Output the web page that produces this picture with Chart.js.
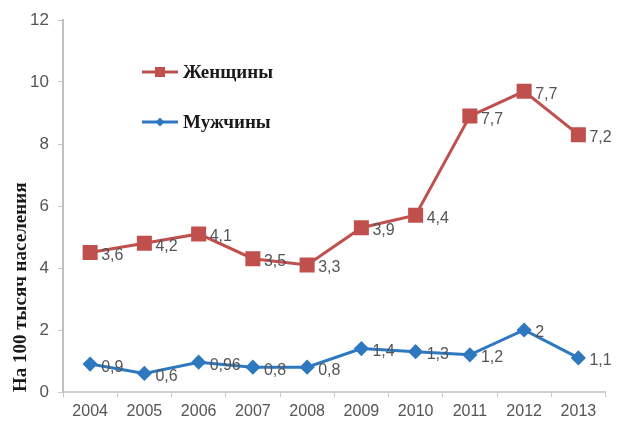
<!DOCTYPE html>
<html>
<head>
<meta charset="utf-8">
<script src="https://cdn.jsdelivr.net/npm/chart.js@4"></script>
<style>
  html, body { margin: 0; padding: 0; background: #fff; }
  #wrap { width: 617px; height: 430px; position: relative; }
</style>
</head>
<body>
<div id="wrap"><canvas id="c" width="617" height="430"></canvas></div>
<script>
// Years on the horizontal axis
const years = ['2004', '2005', '2006', '2007', '2008', '2009', '2010', '2011', '2012', '2013'];
// Rate per 100 thousand population
const women = [4.5, 4.8, 5.1, 4.3, 4.1, 5.3, 5.7, 8.9, 9.7, 8.3];
const men = [0.9, 0.6, 0.96, 0.8, 0.8, 1.4, 1.3, 1.2, 2, 1.1];
// Annotation texts printed beside the women's points
const womenNotes = ['3,6', '4,2', '4,1', '3,5', '3,3', '3,9', '4,4', '7,7', '7,7', '7,2'];
const yTicks = [0, 2, 4, 6, 8, 10, 12];

const RED = '#c0504d';
const BLUE = '#2e78c0';

const fmt = v => String(v).replace('.', ',');

// Point annotations to the right of each marker
const pointNotes = {
  id: 'pointNotes',
  afterDatasetsDraw(chart) {
    const ctx = chart.ctx;
    ctx.save();
    ctx.font = '16px "Liberation Sans", Arial, sans-serif';
    ctx.fillStyle = '#555';
    ctx.textAlign = 'left';
    ctx.textBaseline = 'middle';
    chart.data.datasets.forEach((ds, i) => {
      const meta = chart.getDatasetMeta(i);
      meta.data.forEach((pt, j) => {
        const txt = ds.notes ? ds.notes[j] : fmt(ds.data[j]);
        ctx.fillText(txt, pt.x + 11, pt.y + 3);
      });
    });
    ctx.restore();
  }
};

// Legend drawn inside the plot area
const innerLegend = {
  id: 'innerLegend',
  afterDraw(chart) {
    const ctx = chart.ctx;
    const x0 = 142, x1 = 178;
    const rows = [72, 122];
    ctx.save();
    chart.data.datasets.forEach((ds, i) => {
      const y = rows[i];
      ctx.strokeStyle = ds.borderColor;
      ctx.lineWidth = 3;
      ctx.beginPath();
      ctx.moveTo(x0, y);
      ctx.lineTo(x1, y);
      ctx.stroke();
      ctx.fillStyle = ds.pointBackgroundColor;
      const cx = (x0 + x1) / 2;
      if (ds.pointStyle === 'rect') {
        ctx.fillRect(cx - 5, y - 5, 10, 10);
      } else {
        ctx.beginPath();
        ctx.moveTo(cx, y - 4.5);
        ctx.lineTo(cx + 4.5, y);
        ctx.lineTo(cx, y + 4.5);
        ctx.lineTo(cx - 4.5, y);
        ctx.closePath();
        ctx.fill();
      }
      ctx.fillStyle = '#1a1a1a';
      ctx.font = 'bold 19px "Liberation Serif", "Times New Roman", serif';
      ctx.textAlign = 'left';
      ctx.textBaseline = 'middle';
      ctx.fillText(ds.label, x1 + 5, y + 1);
    });
    ctx.restore();
  }
};

new Chart(document.getElementById('c'), {
  type: 'line',
  data: {
    labels: years,
    datasets: [
      {
        label: 'Женщины',
        data: women,
        notes: womenNotes,
        borderColor: RED,
        backgroundColor: RED,
        pointBackgroundColor: RED,
        pointBorderColor: RED,
        pointStyle: 'rect',
        pointRadius: 8.5,
        borderWidth: 3,
        tension: 0
      },
      {
        label: 'Мужчины',
        data: men,
        borderColor: BLUE,
        backgroundColor: BLUE,
        pointBackgroundColor: BLUE,
        pointBorderColor: BLUE,
        pointStyle: 'rectRot',
        pointRadius: 5.5,
        borderWidth: 3,
        tension: 0
      }
    ]
  },
  options: {
    responsive: false,
    animation: false,
    layout: { padding: { top: 20, right: 5, left: 0, bottom: 0 } },
    plugins: {
      legend: { display: false },
      tooltip: { enabled: false }
    },
    scales: {
      x: {
        offset: true,
        grid: {
          offset: true,
          drawOnChartArea: false,
          drawTicks: true,
          tickLength: 5,
          color: '#c8c8c8',
          lineWidth: 1
        },
        border: { color: '#cfcfcf', width: 2 },
        ticks: {
          color: '#555',
          font: { family: '"Liberation Sans", Arial, sans-serif', size: 16 },
          padding: 5,
          maxRotation: 0
        },
        afterFit(s) { s.height = 38; }
      },
      y: {
        min: 0,
        max: 12,
        afterBuildTicks(s) { s.ticks = yTicks.map(v => ({ value: v })); },
        grid: {
          drawOnChartArea: false,
          drawTicks: true,
          tickLength: 5,
          color: '#c8c8c8'
        },
        border: { color: '#c0c0c0', width: 2, dash: [2, 2] },
        ticks: {
          color: '#555',
          font: { family: '"Liberation Sans", Arial, sans-serif', size: 17 },
          padding: 9
        },
        title: {
          display: true,
          text: 'На 100 тысяч населения',
          align: 'start',
          color: '#1a1a1a',
          font: { family: '"Liberation Serif", "Times New Roman", serif', size: 19, weight: 'bold' },
          padding: { top: 10, bottom: 0 }
        },
        afterFit(s) { s.width = 63; }
      }
    }
  },
  plugins: [pointNotes, innerLegend]
});
</script>
</body>
</html>
